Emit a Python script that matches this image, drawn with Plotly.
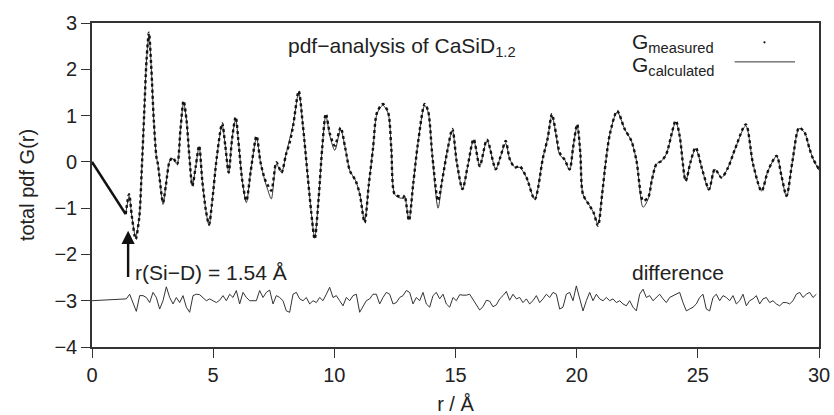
import numpy as np
import plotly.graph_objects as go

# ---- data ----
low_r = [0.0, 1.39]
low_g = [0.0, -1.13]

r_pts = [1.39, 1.53, 1.65, 1.80, 1.95, 2.05, 2.15, 2.25, 2.35, 2.45, 2.55, 2.66, 2.72, 2.80, 2.93,
         3.05, 3.21, 3.34, 3.51, 3.65, 3.78, 3.90, 4.02, 4.14, 4.28, 4.42, 4.55, 4.70, 4.83, 4.95,
         5.15, 5.37, 5.50, 5.64, 5.78, 5.93, 6.05, 6.20, 6.37, 6.55, 6.79, 6.95, 7.13, 7.25, 7.40,
         7.61, 7.82, 8.00, 8.16, 8.30, 8.53, 8.70, 8.90, 9.05, 9.19, 9.35, 9.50, 9.65, 9.82, 10.02,
         10.26, 10.45, 10.64, 10.88, 11.05, 11.25, 11.42, 11.60, 11.74, 11.90, 12.01, 12.22, 12.35, 12.49, 12.70,
         12.84, 12.90, 13.08, 13.25, 13.45, 13.73, 13.87, 14.05, 14.28, 14.45, 14.65, 14.87, 15.05, 15.29, 15.50,
         15.75, 16.00, 16.30, 16.66, 16.85, 17.07, 17.24, 17.45, 17.65, 17.93, 18.27, 18.61, 18.80, 18.98, 19.15,
         19.30, 19.50, 19.71, 19.85, 20.02, 20.15, 20.26, 20.54, 20.70, 20.88, 21.05, 21.20, 21.37, 21.67, 21.98,
         22.26, 22.47, 22.74, 22.95, 23.10, 23.29, 23.50, 23.70, 24.09, 24.25, 24.50, 24.70, 24.91, 25.20, 25.46,
         25.70, 25.98, 26.25, 26.53, 26.98, 27.28, 27.63, 27.90, 28.25, 28.45, 28.66, 28.90, 29.18, 29.41, 29.60,
         29.76, 30.00]

g_measured = [-1.13, -0.70, -1.20, -1.67, -1.20, -0.20, 1.00, 2.20, 2.79, 2.00, 0.90, 0.10, -0.05, -0.40, -0.88,
              -0.50, 0.02, 0.09, -0.05, 0.70, 1.32, 0.90, 0.10, -0.52, -0.10, 0.35, -0.40, -1.05, -1.35, -0.90,
              0.10, 0.83, 0.35, -0.23, 0.50, 0.97, 0.40, -0.40, -0.84, -0.20, 0.56, 0.00, -0.37, -0.50, -0.62,
              -0.01, -0.23, 0.15, 0.42, 0.78, 1.53, 0.80, -0.30, -1.10, -1.67, -0.80, 0.30, 1.04, 0.60, 0.35,
              0.74, 0.30, -0.19, -0.41, -0.70, -1.31, -0.50, 0.31, 1.03, 1.20, 1.25, 1.07, 0.30, -0.70, -0.75,
              -0.77, -0.73, -1.27, -0.50, 0.40, 1.25, 1.10, 0.10, -0.84, -0.40, 0.20, 0.71, 0.00, -0.59, -0.10,
              0.49, -0.09, 0.48, -0.16, 0.10, 0.45, 0.06, -0.12, -0.09, -0.34, -0.81, 0.09, 0.50, 1.03, 0.60,
              0.20, 0.05, -0.16, 0.30, 0.81, 0.20, -0.70, -0.95, -1.10, -1.38, -0.70, 0.00, 0.60, 1.10, 0.71,
              0.45, 0.02, -0.84, -0.77, -0.40, -0.05, 0.02, 0.17, 0.89, 0.56, -0.41, 0.00, 0.31, -0.20, -0.59,
              -0.16, -0.34, -0.12, 0.27, 0.81, -0.05, -0.63, -0.19, 0.13, -0.30, -0.73, 0.00, 0.74, 0.63, 0.30,
              0.06, -0.16]

g_calculated = [-1.13, -0.75, -1.20, -1.62, -1.20, -0.20, 1.00, 2.20, 2.75, 2.00, 0.90, 0.10, -0.05, -0.40, -0.92,
                -0.50, 0.02, 0.07, -0.05, 0.70, 1.28, 0.90, 0.10, -0.52, -0.10, 0.33, -0.40, -1.05, -1.38, -0.90,
                0.10, 0.80, 0.35, -0.23, 0.50, 0.92, 0.40, -0.40, -0.88, -0.20, 0.52, 0.00, -0.40, -0.60, -0.80,
                -0.05, -0.23, 0.15, 0.50, 0.80, 1.50, 0.80, -0.30, -1.10, -1.65, -0.80, 0.30, 1.00, 0.55, 0.25,
                0.70, 0.30, -0.19, -0.41, -0.70, -1.28, -0.50, 0.31, 1.00, 1.18, 1.22, 1.05, 0.30, -0.70, -0.78,
                -0.78, -0.73, -1.25, -0.50, 0.40, 1.22, 1.08, 0.10, -1.00, -0.40, 0.20, 0.68, 0.00, -0.59, -0.10,
                0.47, -0.09, 0.46, -0.16, 0.10, 0.40, 0.06, -0.12, -0.12, -0.34, -0.81, 0.09, 0.50, 1.00, 0.58,
                0.15, 0.05, -0.18, 0.30, 0.78, 0.20, -0.70, -0.95, -1.10, -1.35, -0.70, 0.00, 0.60, 1.08, 0.71,
                0.45, 0.02, -0.98, -0.80, -0.40, -0.05, 0.02, 0.17, 0.86, 0.56, -0.41, 0.00, 0.28, -0.20, -0.62,
                -0.16, -0.34, -0.12, 0.27, 0.78, -0.05, -0.63, -0.19, 0.12, -0.30, -0.76, 0.00, 0.72, 0.63, 0.30,
                0.06, -0.18]

diff_start_r = [0.0, 0.7, 1.3]
diff_start_v = [-3.00, -2.98, -2.97]
diff_r0 = 1.417      # first sampled r of the difference curve
diff_dr = 0.13755    # sampling step of the difference curve
diff_vals = [
    -2.96, -2.86, -3.07, -3.23, -2.89, -2.89, -2.93, -3.04, -2.82, -2.93,
    -3.18, -3.00, -2.70, -2.93, -3.07, -2.93, -3.04, -2.89, -3.14, -3.25,
    -2.89, -2.86, -2.87, -2.93, -3.00, -2.96, -3.00, -3.04, -2.99, -2.89,
    -3.00, -2.86, -2.93, -2.78, -3.07, -2.82, -2.93, -3.00, -3.00, -3.00,
    -2.78, -2.93, -2.82, -2.77, -3.07, -2.89, -2.93, -3.00, -3.22, -3.25,
    -2.86, -2.82, -2.96, -3.00, -2.93, -3.07, -3.00, -3.04, -2.93, -3.00,
    -2.86, -2.71, -2.93, -2.89, -3.00, -3.11, -2.93, -3.00, -2.89, -2.86,
    -3.25, -3.14, -3.00, -2.96, -2.86, -2.86, -3.07, -2.93, -2.82, -2.86,
    -3.07, -3.04, -2.93, -2.89, -2.78, -2.82, -3.07, -2.93, -3.00, -2.82,
    -3.07, -3.14, -2.89, -2.82, -2.96, -2.86, -3.07, -3.14, -2.93, -3.00,
    -2.87, -2.88, -2.88, -2.86, -2.98, -3.11, -3.20, -3.13, -2.99, -3.01,
    -3.13, -3.09, -2.96, -2.89, -2.80, -2.99, -2.86, -2.96, -2.93, -3.04,
    -2.96, -3.07, -3.00, -2.89, -3.04, -2.96, -2.86, -2.93, -2.82, -2.86,
    -3.18, -3.14, -2.86, -2.82, -3.00, -2.68, -2.93, -3.22, -3.00, -2.82,
    -3.00, -2.86, -2.96, -3.00, -2.93, -3.00, -2.96, -3.04, -3.00, -3.07,
    -3.11, -3.00, -3.14, -3.22, -2.86, -2.75, -2.93, -2.89, -3.00, -2.93,
    -2.86, -2.96, -3.04, -2.93, -2.89, -2.86, -2.82, -3.04, -3.22, -3.18,
    -3.14, -3.07, -2.93, -2.86, -3.18, -3.22, -2.93, -2.86, -3.00, -2.89,
    -2.93, -3.00, -2.89, -3.07, -3.00, -2.86, -3.11, -3.00, -2.96, -2.89,
    -3.07, -2.96, -2.93, -3.04, -3.00, -3.07, -3.11, -3.04, -3.04, -3.07,
    -3.00, -2.86, -2.82, -2.93, -2.86, -2.82, -2.93, -2.86]

x_ticks = [0, 5, 10, 15, 20, 25, 30]
y_ticks = [-4, -3, -2, -1, 0, 1, 2, 3]

# ---- figure ----
FONT = "Liberation Sans, Arial, Helvetica, sans-serif"
INK = "#222222"
FS = 20
FS_NOTE = 21

diff_r = list(diff_start_r) + [diff_r0 + k * diff_dr for k in range(len(diff_vals))]
diff_v = list(diff_start_v) + list(diff_vals)

fig = go.Figure()
fig.add_trace(go.Scatter(x=diff_r, y=diff_v, mode="lines",
                         line=dict(color="#333333", width=1), showlegend=False))
fig.add_trace(go.Scatter(x=low_r, y=low_g, mode="lines",
                         line=dict(color="#111111", width=2.6), showlegend=False))
fig.add_trace(go.Scatter(x=r_pts, y=g_calculated, mode="lines",
                         line=dict(color="#333333", width=1, shape="spline", smoothing=0.8),
                         showlegend=False))
fig.add_trace(go.Scatter(x=r_pts, y=g_measured, mode="lines",
                         line=dict(color="#111111", width=2.4, dash="dot", shape="spline", smoothing=0.8),
                         showlegend=False))

# legend drawn as text + symbols (text left, symbols right as in the original)
fig.add_annotation(xref="paper", yref="paper", x=0.740, y=0.937, xanchor="left", yanchor="middle",
                   text="G<sub>measured</sub>", showarrow=False, font=dict(size=FS_NOTE, color=INK))
fig.add_annotation(xref="paper", yref="paper", x=0.740, y=0.868, xanchor="left", yanchor="middle",
                   text="G<sub>calculated</sub>", showarrow=False, font=dict(size=FS_NOTE, color=INK))
fig.add_shape(type="circle", xref="paper", yref="paper", x0=0.9235, x1=0.9265, y0=0.937, y1=0.944,
              fillcolor="#111111", line=dict(width=0))
fig.add_shape(type="line", xref="paper", yref="paper", x0=0.884, x1=0.967, y0=0.880, y1=0.880,
              line=dict(color="#333333", width=1))

fig.add_annotation(x=8.02, y=2.48, xanchor="left", yanchor="middle",
                   text="pdf\u2212analysis of CaSiD<sub>1.2</sub>", showarrow=False,
                   font=dict(size=FS_NOTE, color=INK))
fig.add_annotation(x=22.2, y=-2.39, xanchor="left", yanchor="middle",
                   text="difference", showarrow=False, font=dict(size=FS_NOTE, color=INK))
fig.add_annotation(x=1.69, y=-2.39, xanchor="left", yanchor="middle",
                   text="r(Si\u2212D) = 1.54 \u00c5", showarrow=False, font=dict(size=FS_NOTE, color=INK))
fig.add_annotation(x=1.49, y=-1.49, ax=1.49, ay=-2.52, axref="x", ayref="y", xref="x", yref="y",
                   text="", showarrow=True, arrowhead=2, arrowsize=1.1, arrowwidth=2.4,
                   arrowcolor="#111111")

axis_common = dict(showline=True, linecolor="#333333", linewidth=1.6, mirror=True,
                   ticks="outside", ticklen=9, tickwidth=1.4, tickcolor="#333333",
                   showgrid=False, zeroline=False, automargin=False,
                   tickfont=dict(size=FS, color=INK, family=FONT))

fig.update_xaxes(range=[0, 30], tickvals=x_ticks, ticktext=[str(v) for v in x_ticks],
                 title=dict(text="r / \u00c5", font=dict(size=FS, color=INK, family=FONT), standoff=14),
                 **axis_common)
fig.update_yaxes(range=[-4, 3], tickvals=y_ticks,
                 ticktext=[("\u2212" + str(-v)) if v < 0 else str(v) for v in y_ticks],
                 title=dict(text="total pdf G(r)", font=dict(size=FS, color=INK, family=FONT), standoff=14),
                 **axis_common)

fig.update_layout(width=834, height=415, margin=dict(l=92, r=15, t=23, b=68),
                  paper_bgcolor="white", plot_bgcolor="white",
                  font=dict(family=FONT, size=FS, color=INK), showlegend=False)

fig.write_html("out.html")
